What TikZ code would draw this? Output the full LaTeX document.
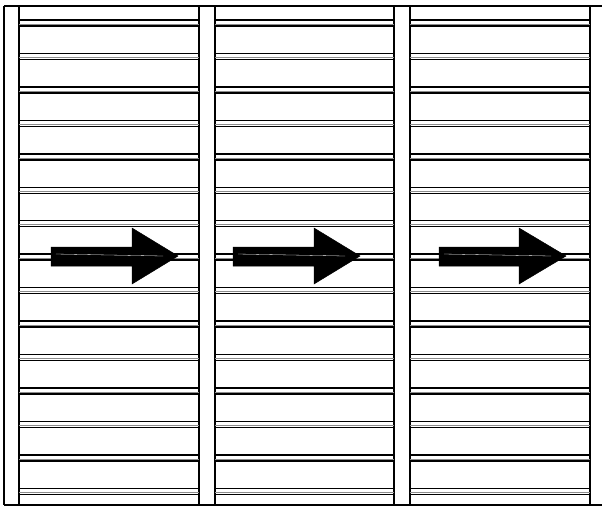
\documentclass[tikz,border=0pt]{standalone}
\begin{document}
\begin{tikzpicture}[x=1pt,y=-1pt,
  frame/.style={draw=black,line width=1.4pt},
  slat/.style={draw=black,line width=1.5pt},
  slatgray/.style={draw=black!45,line width=0.9pt},
  bigarrow/.style={fill=black,draw=black,line width=0.5pt}]
\useasboundingbox (0,0) rectangle (602,507);
% top and bottom lines
\draw[frame] (4,6) -- (602,6);
\draw[frame] (4,505) -- (602,505);
% posts
\foreach \a/\b in {4/19,199/215,394/410}{
  \draw[frame] (\a,6) -- (\a,505);
  \draw[frame] (\b,6) -- (\b,505);
}
\draw[frame] (590,6) -- (590,505);
% slats
\foreach \l/\r in {19/199,215/394,410/590}{
  \foreach \k in {0,...,14}{
    \pgfmathsetmacro{\yy}{20+33.45*\k}
    \draw[slat] (\l,\yy) -- (\r,\yy);
    \draw[slatgray] (\l,\yy+4.2) -- (\r,\yy+4.2);
    \draw[slat] (\l,\yy+6) -- (\r,\yy+6);
  }
}
% arrows
\foreach \s/\h/\t in {51/132/178,233/314/360,439/519/566}{
  \draw[bigarrow] (\s,247) -- (\h,247) -- (\h,228) -- (\t,256) -- (\h,284) -- (\h,266) -- (\s,266) -- cycle;
  \draw[white,line width=0.3pt] (\s+5,254) -- (\t-15,256);
}
\end{tikzpicture}
\end{document}
